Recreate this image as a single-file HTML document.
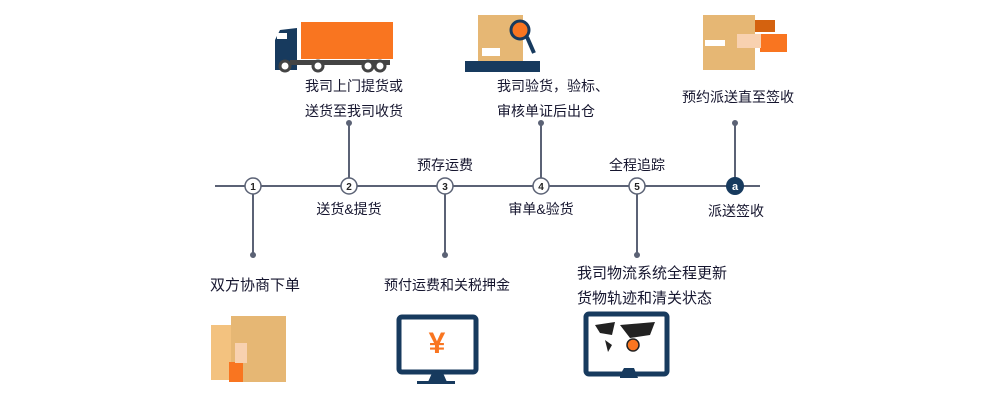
<!DOCTYPE html><html><head><meta charset="utf-8"><style>
body{margin:0;width:1000px;height:400px;background:#fff;position:relative;overflow:hidden;font-family:"Liberation Sans","Noto Sans CJK SC",sans-serif;color:#15152e}
.t{position:absolute;font-size:14px;white-space:nowrap;line-height:16px}
.b{font-size:15px}
.c{transform:translateX(-50%)}
</style></head><body>
<svg width="1000" height="400" style="position:absolute;left:0;top:0">
<g stroke="#5b6275" stroke-width="2">
<line x1="215" y1="186" x2="760" y2="186"/>
<line x1="253" y1="186" x2="253" y2="255"/>
<line x1="349" y1="186" x2="349" y2="123"/>
<line x1="445" y1="186" x2="445" y2="255"/>
<line x1="541" y1="186" x2="541" y2="123"/>
<line x1="637" y1="186" x2="637" y2="255"/>
<line x1="735" y1="186" x2="735" y2="123"/>
</g>
<g fill="#5b6275"><circle cx="253" cy="255" r="3"/><circle cx="349" cy="123" r="3"/><circle cx="445" cy="255" r="3"/><circle cx="541" cy="123" r="3"/><circle cx="637" cy="255" r="3"/><circle cx="735" cy="123" r="3"/></g>
<g fill="#fff" stroke="#5b6275" stroke-width="1.5">
<circle cx="253" cy="186" r="8"/><circle cx="349" cy="186" r="8"/><circle cx="445" cy="186" r="8"/><circle cx="541" cy="186" r="8"/><circle cx="637" cy="186" r="8"/></g>
<circle cx="735" cy="186" r="9" fill="#173a5e"/>
<g font-size="10" font-weight="bold" text-anchor="middle" fill="#222" font-family="Liberation Sans">
<text x="253" y="190">1</text><text x="349" y="190">2</text><text x="445" y="190">3</text><text x="541" y="190">4</text><text x="637" y="190">5</text></g>
<text x="735" y="190" font-size="11" font-weight="bold" text-anchor="middle" fill="#fff" font-family="Liberation Sans">a</text>
<!-- truck -->
<rect x="301" y="22" width="92" height="37" fill="#f97520"/>
<path d="M275 40 L280 30 L297 28 L297 70 L275 70 Z" fill="#173a5e"/>
<rect x="277" y="33" width="10" height="6" fill="#fff"/>
<rect x="290" y="60" width="100" height="5" fill="#444"/>
<g fill="#fff" stroke="#444" stroke-width="3"><circle cx="285" cy="66" r="5"/><circle cx="318" cy="66" r="5"/><circle cx="368" cy="66" r="5"/><circle cx="380" cy="66" r="5"/></g>
<!-- box magnifier -->
<rect x="478" y="15" width="45" height="48" fill="#e6b774"/>
<rect x="482" y="48" width="18" height="8" fill="#fff"/>
<rect x="465" y="61" width="75" height="11" fill="#173a5e"/>
<circle cx="520" cy="30" r="9" fill="#f97520" stroke="#173a5e" stroke-width="3"/>
<line x1="527" y1="37" x2="534" y2="53" stroke="#173a5e" stroke-width="4"/>
<!-- box hand -->
<rect x="703" y="15" width="52" height="55" fill="#e6b774"/>
<rect x="755" y="20" width="20" height="12" fill="#d4620f"/>
<rect x="760" y="34" width="27" height="18" fill="#f97520"/>
<rect x="737" y="34" width="24" height="14" fill="#f8d1b0"/>
<rect x="705" y="40" width="20" height="6" fill="#fff"/>
<!-- bottom box -->
<rect x="211" y="325" width="20" height="55" fill="#f3c27f"/>
<rect x="231" y="316" width="55" height="66" fill="#e6b774"/>
<rect x="229" y="362" width="14" height="20" fill="#f97520"/>
<rect x="235" y="343" width="12" height="20" fill="#f8d1b0"/>
<!-- monitor yen -->
<rect x="399" y="317" width="77" height="55" rx="3" fill="#fff" stroke="#173a5e" stroke-width="5"/>
<path d="M428 382 L432 373 L443 373 L447 382 Z" fill="#173a5e"/>
<rect x="417" y="381" width="38" height="3" fill="#173a5e"/>
<text x="437" y="353" font-size="30" font-weight="bold" fill="#f97520" text-anchor="middle" font-family="Liberation Sans">¥</text>
<!-- monitor map -->
<rect x="586" y="314" width="81" height="60" rx="3" fill="#fff" stroke="#173a5e" stroke-width="5"/>
<path d="M620 375 L624 368 L634 368 L638 378 L620 378 Z" fill="#173a5e"/>
<path d="M595 325 L615 322 L612 335 L600 333 Z M620 325 L655 322 L650 335 L630 338 Z M605 340 L612 345 L608 352 Z" fill="#222"/>
<circle cx="633" cy="345" r="6" fill="#f97520" stroke="#222" stroke-width="1.5"/>
</svg>
<div class="t" style="left:305px;top:78px">我司上门提货或</div>
<div class="t" style="left:305px;top:103px">送货至我司收货</div>
<div class="t" style="left:497px;top:78px">我司验货，验标、</div>
<div class="t" style="left:497px;top:103px">审核单证后出仓</div>
<div class="t" style="left:682px;top:89px">预约派送直至签收</div>
<div class="t c" style="left:445px;top:157px">预存运费</div>
<div class="t c" style="left:637px;top:157px">全程追踪</div>
<div class="t c" style="left:349px;top:201px">送货&amp;提货</div>
<div class="t c" style="left:541px;top:201px">审单&amp;验货</div>
<div class="t c" style="left:736px;top:203px">派送签收</div>
<div class="t b" style="left:210px;top:278px">双方协商下单</div>
<div class="t" style="left:384px;top:277px">预付运费和关税押金</div>
<div class="t b" style="left:577px;top:266px">我司物流系统全程更新</div>
<div class="t b" style="left:577px;top:291px">货物轨迹和清关状态</div>
</body></html>
